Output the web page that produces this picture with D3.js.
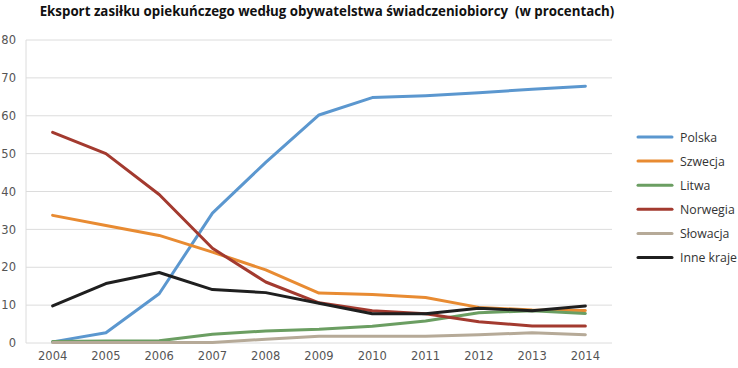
<!DOCTYPE html>
<html>
<head>
<meta charset="utf-8">
<script src="https://cdn.jsdelivr.net/npm/d3@7"></script>
<style>
  body { margin: 0; background: #fff; }
  svg { display: block; }
</style>
</head>
<body>
<svg id="chart" width="738" height="368"></svg>
<script>
const width = 738;
const height = 368;

// years on the x axis
const years = ["2004", "2005", "2006", "2007", "2008", "2009", "2010", "2011", "2012", "2013", "2014"];
const yTicks = [0, 10, 20, 30, 40, 50, 60, 70, 80];

// values (percent)
const polska   = [0.3, 2.7, 13.0, 34.3, 47.7, 60.2, 64.8, 65.3, 66.1, 67.0, 67.8];
const szwecja  = [33.7, 31.0, 28.4, 24.0, 19.3, 13.2, 12.8, 12.0, 9.4, 8.7, 8.6];
const litwa    = [0.4, 0.5, 0.6, 2.3, 3.2, 3.6, 4.4, 5.8, 8.0, 8.5, 7.8];
const norwegia = [55.6, 50.0, 39.2, 25.0, 16.1, 10.6, 8.5, 7.7, 5.6, 4.5, 4.5];
const slowacja = [0.1, 0.1, 0.1, 0.1, 1.0, 1.8, 1.8, 1.8, 2.2, 2.7, 2.2];
const inne     = [9.8, 15.7, 18.6, 14.1, 13.3, 10.5, 7.7, 7.7, 9.2, 8.5, 9.8];

const seriesNames = ["Polska", "Szwecja", "Litwa", "Norwegia", "Słowacja", "Inne kraje"];
const seriesValues = [polska, szwecja, litwa, norwegia, slowacja, inne];
const colors = ["#5b97cf", "#e88b32", "#6b9e62", "#a33a2f", "#b6aa98", "#1f1f1f"];

const svg = d3.select("#chart");

const margin = { left: 26, right: 126, top: 40, bottom: 25 };

const x = d3.scaleBand()
    .domain(years)
    .range([margin.left, width - margin.right]);

const y = d3.scaleLinear()
    .domain([0, 80])
    .range([height - margin.bottom, margin.top]);

// title
svg.append("text")
    .attr("x", 327)
    .attr("y", 16)
    .attr("text-anchor", "middle")
    .attr("font-family", "Open Sans, sans-serif")
    .attr("font-weight", "bold")
    .attr("font-size", 13.3)
    .attr("fill", "#111")
    .style("white-space", "pre")
    .text("Eksport zasiłku opiekuńczego według obywatelstwa świadczeniobiorcy  (w procentach)");

// gridlines
svg.append("g")
    .selectAll("line")
    .data(yTicks)
    .enter()
    .append("line")
    .attr("x1", margin.left)
    .attr("x2", width - margin.right)
    .attr("y1", d => y(d))
    .attr("y2", d => y(d))
    .attr("stroke", "#dcdcdc")
    .attr("stroke-width", 1);

// left axis line
svg.append("line")
    .attr("x1", margin.left)
    .attr("x2", margin.left)
    .attr("y1", y(80))
    .attr("y2", y(0))
    .attr("stroke", "#dcdcdc");

// y axis labels
const yAxis = d3.axisLeft(y).tickValues(yTicks).tickSize(0).tickPadding(10);
const gy = svg.append("g")
    .attr("transform", `translate(${margin.left},0)`)
    .call(yAxis);
gy.select(".domain").remove();
gy.selectAll("text")
    .attr("font-family", "DejaVu Sans, sans-serif")
    .attr("font-size", 11.5)
    .attr("fill", "#555");

// x axis labels
const xAxis = d3.axisBottom(x).tickSize(0).tickPadding(9);
const gx = svg.append("g")
    .attr("transform", `translate(0,${y(0)})`)
    .call(xAxis);
gx.select(".domain").remove();
gx.selectAll("text")
    .attr("font-family", "DejaVu Sans, sans-serif")
    .attr("font-size", 11.5)
    .attr("fill", "#555");

// lines
const line = d3.line()
    .x((d, i) => x(years[i]) + x.bandwidth() / 2)
    .y(d => y(d));

svg.append("g")
    .selectAll("path")
    .data(seriesValues)
    .enter()
    .append("path")
    .attr("d", line)
    .attr("fill", "none")
    .attr("stroke", (d, i) => colors[i])
    .attr("stroke-width", 3)
    .attr("stroke-linejoin", "round")
    .attr("stroke-linecap", "round");

// legend
const legend = svg.append("g");
const rows = legend.selectAll("g")
    .data(seriesNames)
    .enter()
    .append("g")
    .attr("transform", (d, i) => `translate(638,${137 + i * 24.1})`);

rows.append("line")
    .attr("x1", 0)
    .attr("x2", 34)
    .attr("stroke", (d, i) => colors[i])
    .attr("stroke-width", 3)
    .attr("stroke-linecap", "round");

rows.append("text")
    .attr("x", 42)
    .attr("y", 4.5)
    .attr("font-family", "Open Sans, sans-serif")
    .attr("font-size", 12.3)
    .attr("fill", "#333")
    .text(d => d);
</script>
</body>
</html>
